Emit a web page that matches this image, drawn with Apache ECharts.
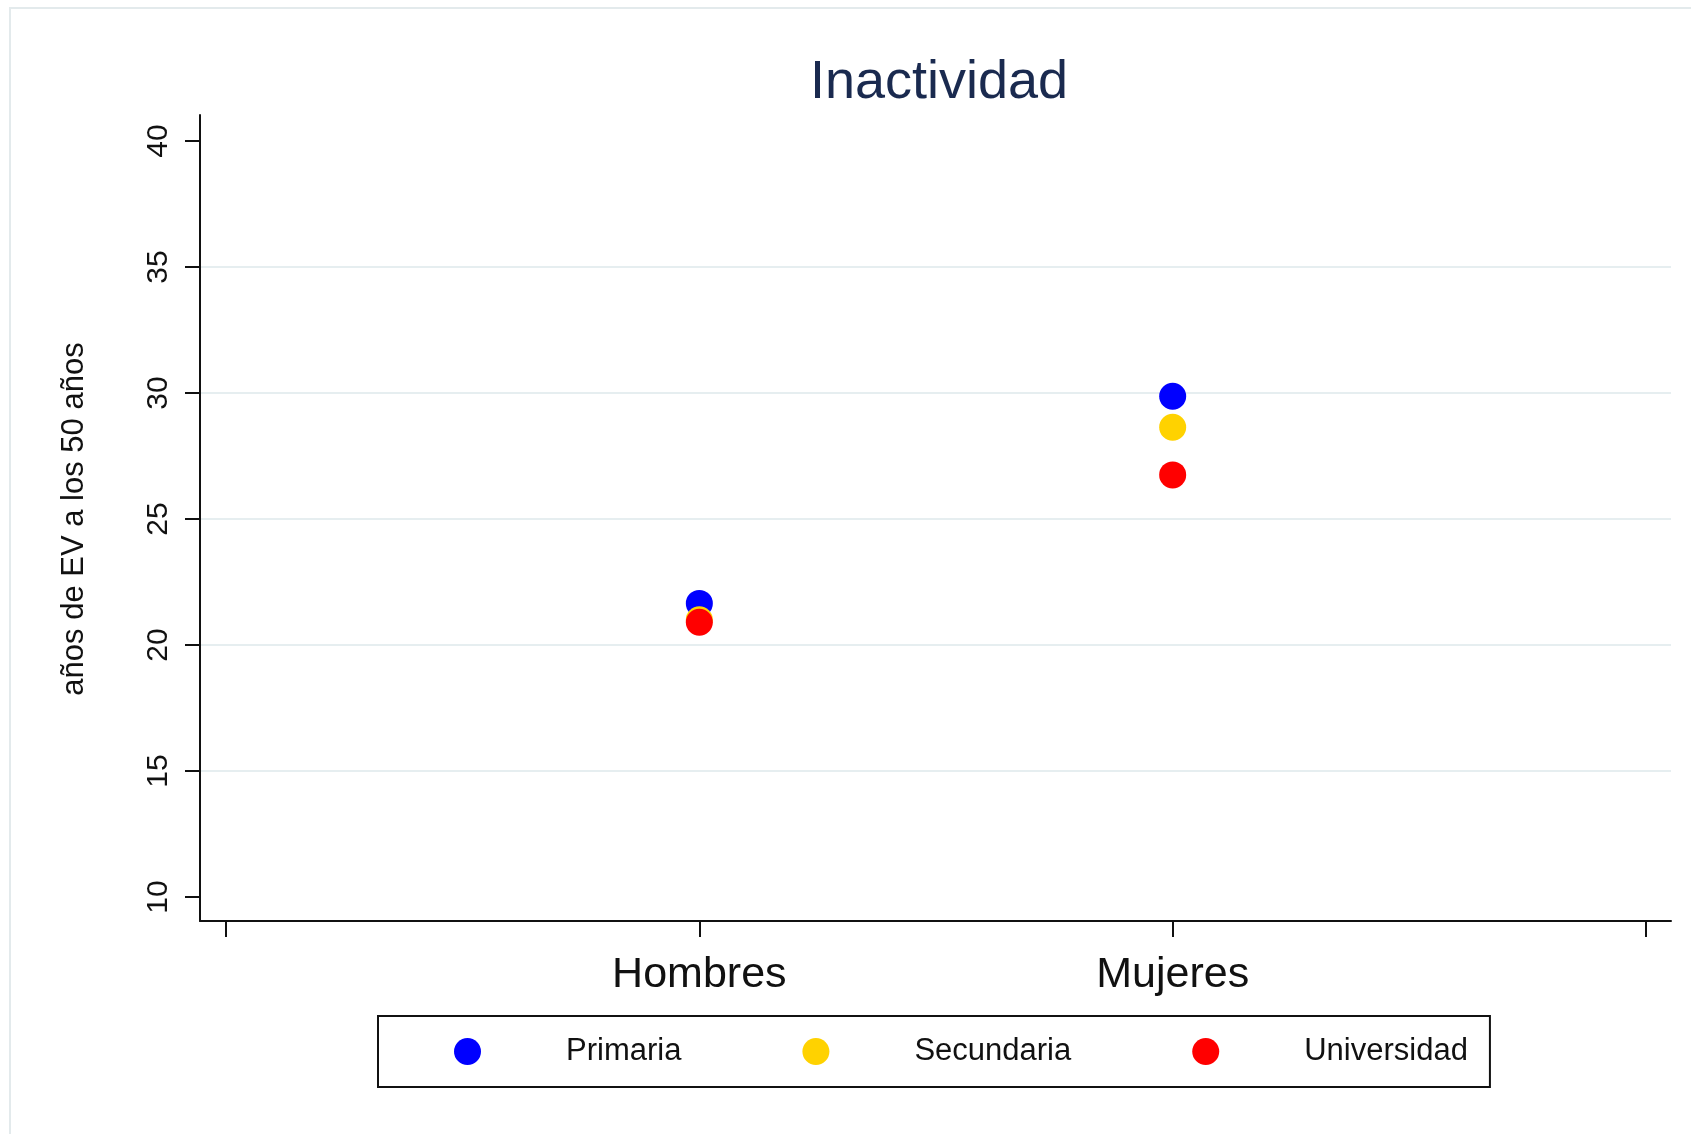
<!DOCTYPE html>
<html>
<head>
<meta charset="utf-8">
<title>Inactividad</title>
<script src="https://cdn.jsdelivr.net/npm/echarts@6/dist/echarts.min.js"></script>
<style>
  html, body { margin: 0; padding: 0; background: #fff; }
  #chart { width: 1691px; height: 1134px; }
</style>
</head>
<body>
<div id="chart"></div>
<script>
// categorias y valores (años de EV a los 50 años)
const categories = ['Hombres', 'Mujeres'];
const primaria = [21.65, 29.87];
const secundaria = [21.0, 28.64];
const universidad = [20.9, 26.75];
const seriesNames = ['Primaria', 'Secundaria', 'Universidad'];
const yTicks = { min: 10, max: 40, step: 5 };

const colors = ['#0000ff', '#ffd200', '#ff0000'];
const font = "'Liberation Sans', Arial, sans-serif";
const ink = '#111';

const chart = echarts.init(document.getElementById('chart'));

// ejes extendidos solo como lineas (grid 0), escala y con rejilla (grid 1), datos (grid 2)
const hidden = { show: false };

chart.setOption({
  animation: false,
  textStyle: { fontFamily: font },
  graphic: [{
    type: 'rect',
    shape: { x: 10, y: 8, width: 1700, height: 1200 },
    style: { fill: 'none', stroke: '#e3eaec', lineWidth: 2 },
    silent: true
  }],
  title: {
    text: 'Inactividad',
    left: 934,
    top: 51,
    textAlign: 'center',
    textStyle: { fontSize: 54, fontWeight: 'normal', color: '#1a2a4f', fontFamily: font }
  },
  legend: {
    data: seriesNames,
    icon: 'circle',
    itemWidth: 27,
    itemHeight: 27,
    itemGap: 121,
    left: 378,
    top: 1016,
    orient: 'horizontal',
    borderColor: ink,
    borderWidth: 2,
    padding: [20, 22, 20, 76],
    selectedMode: false,
    textStyle: { fontSize: 31, color: ink, padding: [5, 0, 0, 80], fontFamily: font }
  },
  grid: [
    { left: 200, right: 20, top: 115, bottom: 213 },
    { left: 200, right: 20, top: 141, bottom: 237 },
    { left: 226, right: 45, top: 141, bottom: 237 }
  ],
  xAxis: [
    {
      gridIndex: 0, type: 'value', min: 0, max: 1,
      axisLine: { show: true, lineStyle: { color: ink, width: 2 } },
      axisTick: hidden, axisLabel: hidden, splitLine: hidden
    },
    {
      gridIndex: 1, type: 'value', min: 0, max: 1, show: false
    },
    {
      gridIndex: 2, type: 'category', data: ['', ...categories, ''],
      boundaryGap: false, offset: 24,
      axisLine: hidden,
      axisTick: { show: true, length: 16, lineStyle: { color: ink, width: 2 } },
      axisLabel: { fontSize: 43, color: ink, margin: 33, fontFamily: font },
      splitLine: hidden
    }
  ],
  yAxis: [
    {
      gridIndex: 0, type: 'value', min: 0, max: 1,
      axisLine: { show: true, lineStyle: { color: ink, width: 2 } },
      axisTick: hidden, axisLabel: hidden, splitLine: hidden
    },
    {
      gridIndex: 1, type: 'value', min: yTicks.min, max: yTicks.max, interval: yTicks.step,
      name: 'años de EV a los 50 años',
      nameLocation: 'middle',
      nameGap: 110,
      nameTextStyle: { fontSize: 31, color: ink, fontFamily: font },
      axisLine: hidden,
      axisTick: { show: true, length: 15, lineStyle: { color: ink, width: 2 } },
      axisLabel: { rotate: 90, fontSize: 30, color: ink, margin: 26, fontFamily: font },
      splitLine: {
        show: true, showMinLine: false, showMaxLine: false,
        lineStyle: { color: '#e6eef0', width: 2 }
      }
    },
    {
      gridIndex: 2, type: 'value', min: yTicks.min, max: yTicks.max, show: false
    }
  ],
  series: [primaria, secundaria, universidad].map((vals, i) => ({
    name: seriesNames[i],
    type: 'scatter',
    xAxisIndex: 2,
    yAxisIndex: 2,
    symbol: 'circle',
    symbolSize: 27,
    itemStyle: { color: colors[i], opacity: 1 },
    emphasis: { disabled: true },
    data: vals.map((v, j) => [categories[j], v])
  }))
});
</script>
</body>
</html>
